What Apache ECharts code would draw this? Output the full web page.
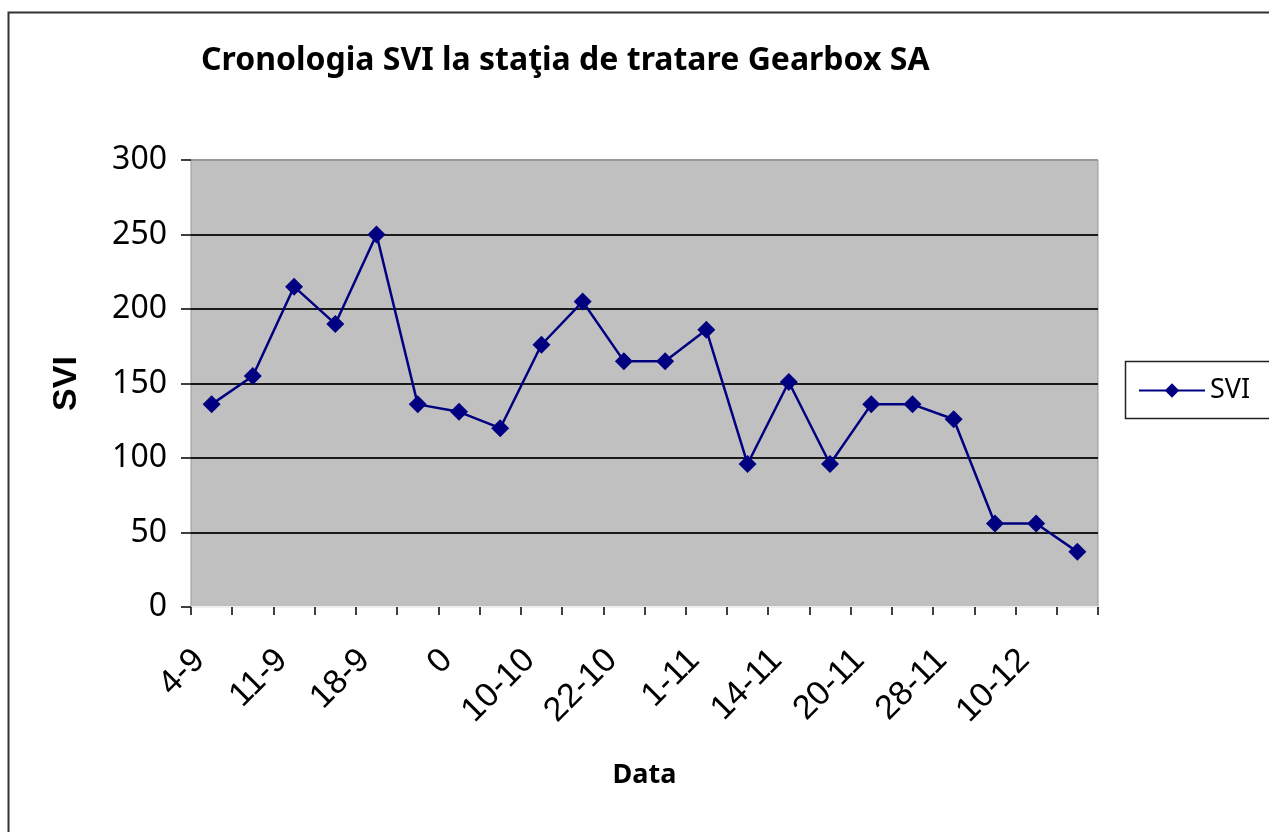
<!DOCTYPE html>
<html>
<head>
<meta charset="utf-8">
<script src="https://cdn.jsdelivr.net/npm/echarts@6/dist/echarts.min.js"></script>
<style>html,body{margin:0;padding:0;background:#fff;}#c{width:1269px;height:832px;}</style>
</head>
<body>
<div id="c"></div>
<script>
var categories = ['4-9','','11-9','','18-9','','0','','10-10','','22-10','','1-11','','14-11','','20-11','','28-11','','10-12',''];
var sviValues = [136,155,215,190,250,136,131,120,176,205,165,165,186,96,151,96,136,136,126,56,56,37];
var yTicks = {min:0, max:300, interval:50};

var chart = echarts.init(document.getElementById('c'));
chart.setOption({
  animation:false,
  backgroundColor:'#fff',
  title:{
    text:'Cronologia SVI la staţia de tratare Gearbox SA',
    left:196, top:40,
    textStyle:{fontFamily:'Noto Sans', fontWeight:'bold', fontSize:32, color:'#000'}
  },
  graphic:[
    {type:'rect', shape:{x:8.5,y:12.5,width:1400,height:1000}, style:{fill:null, stroke:'#333', lineWidth:2}, silent:true, z:-1},
    {type:'rect', shape:{x:1125.5,y:361.5,width:200,height:57}, style:{fill:'#fff', stroke:'#222', lineWidth:1.5}, silent:true, z:0}
  ],
  legend:{
    data:['SVI'], left:1133, top:372, itemWidth:66, itemHeight:18, itemGap:10,
    textStyle:{fontFamily:'Noto Sans', fontSize:27, color:'#000'},
    z:10
  },
  grid:{left:191, top:160, right:171, bottom:225, show:true, backgroundColor:'#c0c0c0', borderColor:'#999', borderWidth:1},
  xAxis:{
    type:'category', data:categories, boundaryGap:true,
    name:'Data', nameLocation:'middle', nameGap:155,
    nameTextStyle:{fontFamily:'Noto Sans', fontWeight:'bold', fontSize:27, color:'#000'},
    axisLine:{show:true, lineStyle:{color:'#eeeeee', width:1.5}},
    axisTick:{show:true, interval:0, length:8, lineStyle:{color:'#000', width:1.5}},
    axisLabel:{interval:1, rotate:45, margin:36, padding:[0,17,0,0], fontFamily:'Liberation Sans', fontSize:34, color:'#000'},
    splitLine:{show:false}
  },
  yAxis:{
    type:'value', min:yTicks.min, max:yTicks.max, interval:yTicks.interval,
    name:'SVI', nameLocation:'middle', nameGap:107, nameRotate:90,
    nameTextStyle:{fontFamily:'Liberation Sans', fontWeight:'bold', fontSize:34, color:'#000'},
    axisLine:{show:false},
    axisTick:{show:true, length:10, lineStyle:{color:'#000', width:1.5}},
    axisLabel:{margin:24, fontFamily:'Noto Sans', fontSize:32, color:'#000'},
    splitLine:{show:true, lineStyle:{color:['#eeeeee','#1a1a1a','#1a1a1a','#1a1a1a','#1a1a1a','#1a1a1a','#999999'], width:1.8}}
  },
  series:[{
    name:'SVI', type:'line', data:sviValues,
    symbol:'diamond', symbolSize:18,
    itemStyle:{color:'#000080'},
    lineStyle:{color:'#000080', width:2.5}
  }]
});
</script>
</body>
</html>
